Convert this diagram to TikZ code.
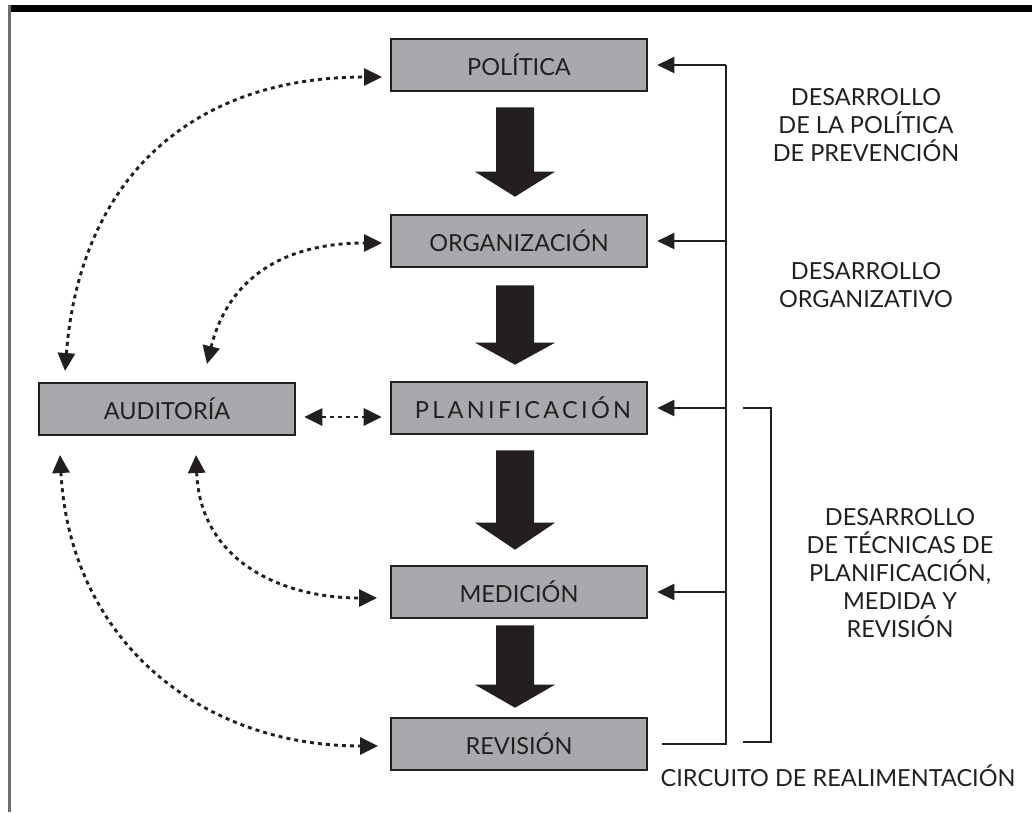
\documentclass[tikz,border=0pt]{standalone}
\usepackage{fontspec}
\setmainfont{Lato}
\usetikzlibrary{arrows.meta,calc}
\definecolor{ink}{HTML}{231F20}
\definecolor{boxgray}{HTML}{A7A9AC}
\definecolor{framegray}{HTML}{6D6E71}
\tikzset{
  stage/.style={draw=ink,line width=2.6pt,fill=boxgray,minimum width=256pt,minimum height=52pt,inner sep=0pt,text=ink,font=\fontsize{23.5}{26}\selectfont},
  fb/.style={draw=ink,line width=2.5pt},
  fbarr/.style={fb,-{Triangle[length=17pt,width=16pt]},shorten >=9pt},
  dotarr/.style={draw=ink,line width=2.9pt,dash pattern=on 4pt off 4pt,{Triangle[length=18pt,width=17pt]}-{Triangle[length=18pt,width=17pt]}},
  lbl/.style={text=ink,align=center,font=\fontsize{23.5}{28}\selectfont,inner sep=0pt},
  fat/.style={fill=ink}
}
\newcommand\fatarr[5]{%
  \fill[fat] ($(#1.south)+(-23,#3)$) -- ($(#1.south)+(15,#3)$) -- ($(#2.north)+(15,-#4-#5)$) -- ($(#2.north)+(36,-#4-#5)$) -- ($(#2.north)+(-4,-#4)$) -- ($(#2.north)+(-44,-#4-#5)$) -- ($(#2.north)+(-23,-#4-#5)$) -- cycle;}
\begin{document}
\begin{tikzpicture}[x=1pt,y=-1pt]
\useasboundingbox (0,0) rectangle (1032,812);
% frame
\fill[black] (8,5) rectangle (1032,12);
\draw[framegray,line width=2.5pt] (9.5,5) -- (9.5,812);
% stages
\node[stage] (pol) at (519,65) {POLÍTICA};
\node[stage] (org) at (519,241) {ORGANIZACIÓN};
\node[stage] (pla) at (519,408) {\hspace*{8pt}\addfontfeature{LetterSpace=14}PLANIFICACIÓN};
\node[stage] (med) at (519,592) {MEDICIÓN};
\node[stage] (rev) at (519,744) {REVISIÓN};
\node[stage] (aud) at (167,409) {AUDITORÍA};
% fat arrows
\fatarr{pol}{org}{15}{17}{25}
\fatarr{org}{pla}{17}{16}{22}
\fatarr{pla}{med}{15}{15}{27}
\fatarr{med}{rev}{6}{9}{23}
% feedback loop
\coordinate (fbT) at (726,65);
\coordinate (fbB) at (726,744);
\draw[fb] ($(rev.east)+(14,0)$) -- (fbB) -- (fbT);
\draw[fbarr] (fbT) -- (pol.east);
\draw[fbarr] ($(fbB)!(org.east)!(fbT)$) -- (org.east);
\draw[fbarr] ($(fbB)!(pla.east)!(fbT)$) -- (pla.east);
\draw[fbarr] ($(fbB)!(med.east)!(fbT)$) -- (med.east);
% bracket
\coordinate (brT) at (743,408);
\coordinate (brB) at (743,742);
\draw[fb] (brT) -- ++(28,0) |- (brB);
% dotted connectors
\coordinate (a1) at (65,371);
\coordinate (p1) at (382,77);
\draw[dotarr] (a1) .. controls (80,180) and (190,77) .. (p1);
\coordinate (a2) at (207,364);
\coordinate (o2) at (382,243);
\draw[dotarr] (a2) .. controls (225,290) and (270,243) .. (o2);
\draw[dotarr] ($(aud.east)+(8,8)$) -- ($(pla.west)+(-8,9)$);
\coordinate (a4) at (196,455);
\coordinate (m4) at (377,598);
\draw[dotarr] (a4) .. controls (200,560) and (280,598) .. (m4);
\coordinate (a5) at (60,455);
\coordinate (r5) at (378,746);
\draw[dotarr] (a5) .. controls (70,640) and (200,746) .. (r5);
% labels
\node[lbl] (l1) at (866,125) {DESARROLLO\\DE LA POLÍTICA\\DE PREVENCIÓN};
\node[lbl] (l2) at (866,285) {DESARROLLO\\ORGANIZATIVO};
\node[lbl] (l3) at (900,573) {DESARROLLO\\DE TÉCNICAS DE\\PLANIFICACIÓN,\\MEDIDA Y\\REVISIÓN};
\node[lbl] (l4) at (838,776) {CIRCUITO DE REALIMENTACIÓN};
\end{tikzpicture}
\end{document}
